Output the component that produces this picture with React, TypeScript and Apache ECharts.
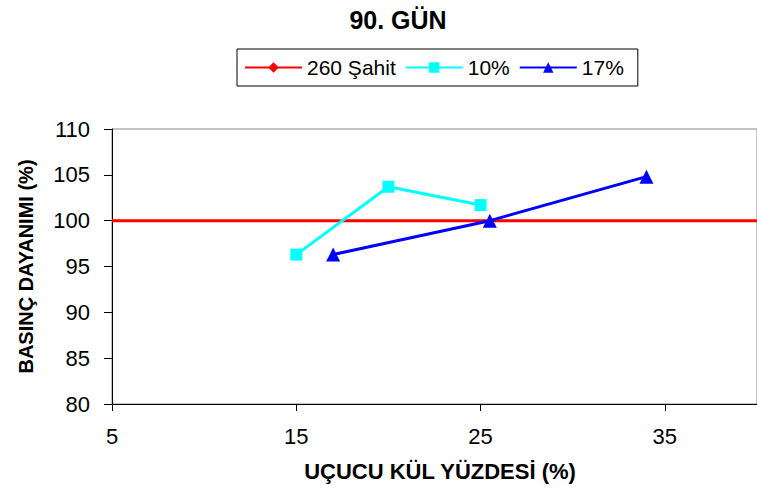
import React, { useEffect, useRef } from "react";
import * as echarts from "echarts";

// Fly ash percentage (x) vs. compressive strength ratio (y), day 90
const controlLabel = "260 Şahit";
const controlX = [5, 40];
const controlY = [100, 100];

const series10Label = "10%";
const series10X = [15, 20, 25];
const series10Y = [96.3, 103.7, 101.7];

const series17Label = "17%";
const series17X = [17, 25.5, 34];
const series17Y = [96.3, 100, 104.8];

const xTicks = { min: 5, max: 40, interval: 10 };
const yTicks = { min: 80, max: 110, interval: 5 };

const zip = (xs: number[], ys: number[]) => xs.map((x, i) => [x, ys[i]]);

const FONT = "Liberation Sans, Arial, sans-serif";

export default function App() {
  const ref = useRef<HTMLDivElement>(null);

  useEffect(() => {
    if (!ref.current) return;
    const chart = echarts.init(ref.current, undefined, { renderer: "svg" });
    chart.setOption({
      animation: false,
      backgroundColor: "#ffffff",
      textStyle: { fontFamily: FONT },
      title: {
        text: "90. GÜN",
        left: 393,
        top: 2,
        textAlign: "center",
        textStyle: { fontSize: 25, fontWeight: "bold", color: "#000", fontFamily: FONT },
      },
      legend: {
        left: 237,
        top: 49,
        padding: [8, 14, 8, 7],
        borderColor: "#000",
        borderWidth: 1,
        itemWidth: 57,
        itemHeight: 13,
        itemGap: 9,
        textStyle: { fontSize: 21, color: "#000", fontFamily: FONT },
        data: [controlLabel, series10Label, series17Label],
      },
      grid: { left: 112, right: -4, top: 129, bottom: 87, show: true, borderColor: "#888", borderWidth: 1 },
      xAxis: {
        type: "value",
        ...xTicks,
        name: "UÇUCU KÜL YÜZDESİ (%)",
        nameLocation: "middle",
        nameGap: 56,
        nameTextStyle: { fontSize: 22, fontWeight: "bold", color: "#000", fontFamily: FONT, padding: [0, 0, 0, 11] },
        axisLine: { show: true, lineStyle: { color: "#000", width: 1 } },
        axisTick: { show: true, length: 7, lineStyle: { color: "#000" } },
        axisLabel: { fontSize: 22, color: "#000", margin: 21, showMaxLabel: false },
        splitLine: { show: false },
      },
      yAxis: {
        type: "value",
        ...yTicks,
        name: "BASINÇ DAYANIMI (%)",
        nameLocation: "middle",
        nameGap: 76,
        nameTextStyle: { fontSize: 20, fontWeight: "bold", color: "#000", fontFamily: FONT },
        axisLine: { show: true, lineStyle: { color: "#000", width: 1 } },
        axisTick: { show: true, length: 8, lineStyle: { color: "#000" } },
        axisLabel: { fontSize: 22, color: "#000", margin: 22 },
        splitLine: { show: false },
      },
      series: [
        {
          name: controlLabel,
          type: "line",
          data: zip(controlX, controlY),
          symbol: "diamond",
          symbolSize: 13,
          showSymbol: false,
          lineStyle: { color: "#ff0000", width: 3 },
          itemStyle: { color: "#ff0000" },
          z: 1,
        },
        {
          name: series10Label,
          type: "line",
          data: zip(series10X, series10Y),
          symbol: "rect",
          symbolSize: 12,
          lineStyle: { color: "#00ffff", width: 3 },
          itemStyle: { color: "#00ffff" },
          z: 2,
        },
        {
          name: series17Label,
          type: "line",
          data: zip(series17X, series17Y),
          symbol: "triangle",
          symbolSize: 14,
          lineStyle: { color: "#0000ff", width: 3 },
          itemStyle: { color: "#0000ff" },
          z: 3,
        },
      ],
    });
    return () => chart.dispose();
  }, []);

  return <div ref={ref} style={{ width: 757, height: 491, position: "absolute", left: 0, top: 0 }} />;
}
